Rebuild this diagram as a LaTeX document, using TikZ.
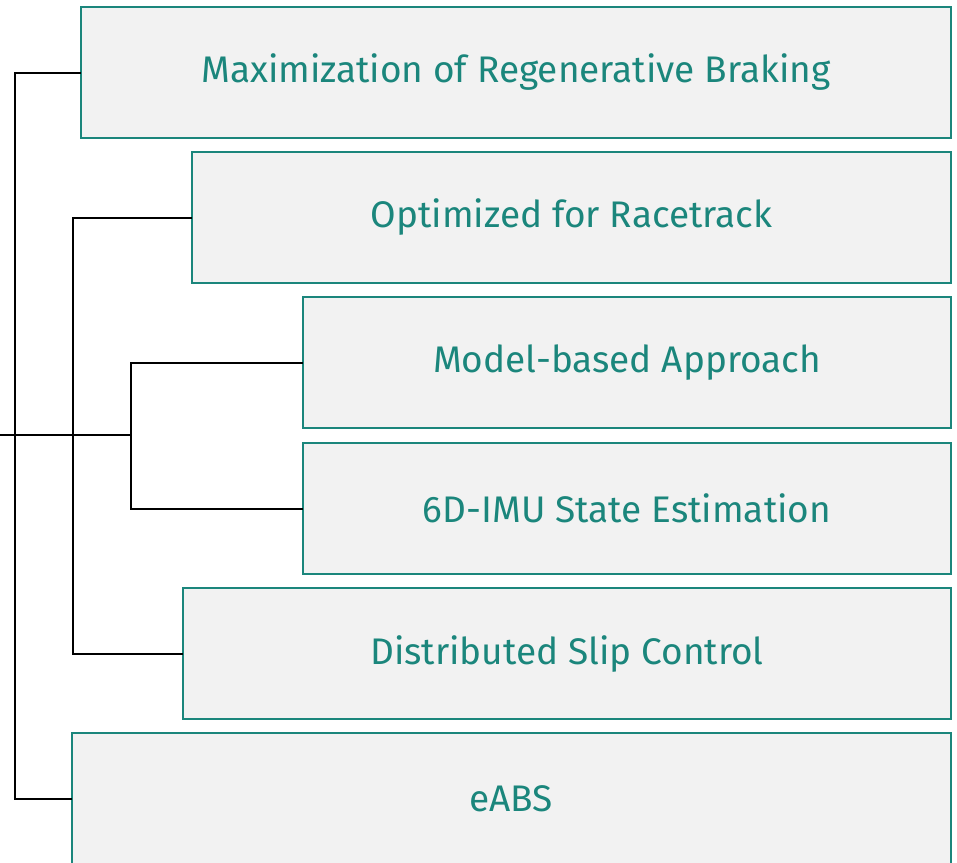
\documentclass[tikz,border=0pt]{standalone}
\usepackage{fontspec}
\setmainfont{Fira Sans}
\usetikzlibrary{positioning}
\definecolor{bosch_teal}{HTML}{1B867C}
\definecolor{box_fill}{HTML}{F2F2F2}
\tikzset{
  topic/.style={draw=bosch_teal, fill=box_fill, line width=2pt, text=bosch_teal,
    anchor=north west, inner sep=0pt, minimum height=131pt,
    font=\fontsize{37}{44}\selectfont},
  link/.style={line width=2pt, line cap=rect}
}

\begin{document}
\begin{tikzpicture}[x=1pt,y=-1pt]
	\useasboundingbox (0,0) rectangle (957,862);
	\clip (0,0) rectangle (957,862);
	% topic boxes
	\node[topic, minimum width=870pt] (b1) at (80,6)  {Maximization of Regenerative Braking};
	\node[topic, minimum width=759pt] (b2) at (191,151) {Optimized for Racetrack};
	\node[topic, minimum width=648pt] (b3) at (302,296) {Model-based Approach};
	\node[topic, minimum width=648pt] (b4) at (302,442) {6D-IMU State Estimation};
	\node[topic, minimum width=768pt] (b5) at (182,587) {Distributed Slip Control};
	\node[topic, minimum width=879pt, minimum height=150pt] (b6) at (71,732) {};
	\node[text=bosch_teal, font=\fontsize{37}{44}\selectfont] (t6) at (511,799) {eABS};
	% bracket spines
	\coordinate (root)   at (0,435);
	\coordinate (spineA) at (15,0);
	\coordinate (spineB) at (73,0);
	\coordinate (spineC) at (131,0);
	\draw[link] (b1.west) -| (spineA |- t6) -- (t6 -| b6.west);
	\draw[link] (b2.west) -| (spineB |- b5.west) -- (b5.west);
	\draw[link] (b3.west) -| (spineC |- b4.west) -- (b4.west);
	\draw[link] (root) -- (root -| spineC);
\end{tikzpicture}
\end{document}
